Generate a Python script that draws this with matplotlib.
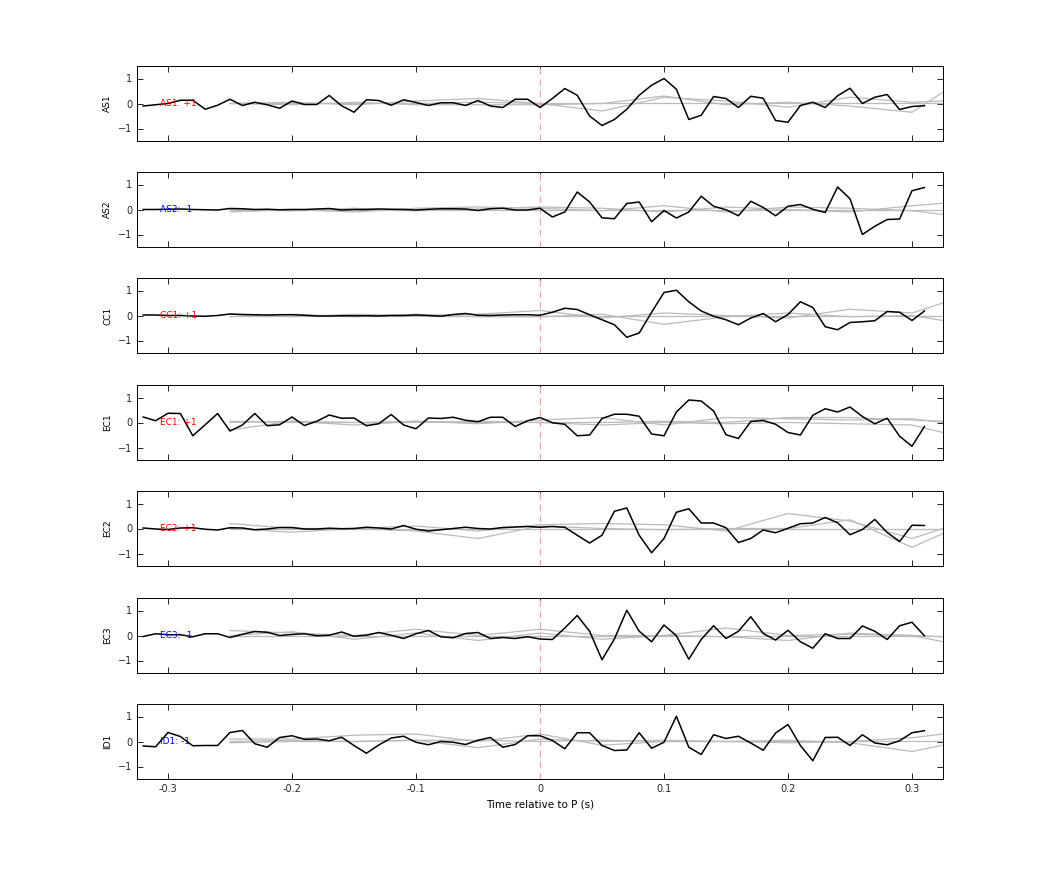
import numpy as np
import matplotlib.pyplot as plt

t = np.round(np.arange(-0.32, 0.315, 0.01), 2)
tg = [-0.25, -0.2, -0.15, -0.1, -0.05, 0.0, 0.05, 0.1, 0.15, 0.2, 0.25, 0.3, 0.325]

names = ['AS1', 'AS2', 'CC1', 'EC1', 'EC2', 'EC3', 'ID1']
labels = ['AS1: +1', 'AS2: -1', 'CC1: +1', 'EC1: +1', 'EC2: +1', 'EC3: -1', 'ID1: -1']
label_colors = ['red', 'blue', 'red', 'red', 'red', 'blue', 'blue']

as1 = [-0.1, -0.05, 0.0, 0.13, 0.13, -0.23, -0.07, 0.17, -0.08, 0.05, -0.05, -0.19, 0.1, -0.04,
       -0.04, 0.32, -0.09, -0.35, 0.15, 0.12, -0.07, 0.15, 0.04, -0.08, 0.03, 0.03, -0.08, 0.12,
       -0.1, -0.16, 0.17, 0.17, -0.16,
       0.2, 0.6, 0.33, -0.5, -0.88, -0.64, -0.23, 0.33, 0.73, 1.0, 0.57, -0.64, -0.47, 0.28, 0.2,
       -0.16, 0.29, 0.21, -0.68, -0.75, -0.08, 0.05, -0.16, 0.31, 0.61, 0.0, 0.25, 0.36, -0.24,
       -0.12, -0.09]
as2 = [0.0, 0.0, 0.01, 0.02, 0.0, -0.01, -0.02, 0.04, 0.03, 0.0, 0.01, -0.01, 0.0, 0.0,
       0.02, 0.04, -0.02, 0.0, 0.0, 0.02, 0.01, 0.0, -0.02, 0.01, 0.03, 0.03, 0.02, -0.04,
       0.03, 0.05, -0.02, -0.02, 0.05,
       -0.3, -0.1, 0.7, 0.3, -0.33, -0.37, 0.24, 0.3, -0.49, -0.04, -0.34, -0.1, 0.53, 0.13,
       -0.01, -0.25, 0.33, 0.08, -0.25, 0.13, 0.2, 0.01, -0.12, 0.9, 0.43, -1.0, -0.67, -0.4,
       -0.38, 0.75, 0.88]
cc1 = [0.02, 0.02, 0.0, 0.0, -0.02, -0.03, 0.0, 0.06, 0.04, 0.03, 0.02, 0.03, 0.03, 0.01,
       -0.02, -0.02, -0.01, -0.01, -0.01, -0.02, 0.0, 0.0, 0.02, 0.0, -0.03, 0.04, 0.08, 0.01,
       0.0, 0.02, 0.03, 0.03, 0.01,
       0.13, 0.29, 0.24, 0.03, -0.17, -0.37, -0.87, -0.7, 0.13, 0.92, 1.01, 0.55, 0.18, -0.03,
       -0.17, -0.37, -0.1, 0.08, -0.25, 0.04, 0.55, 0.32, -0.45, -0.57, -0.28, -0.25, -0.21,
       0.16, 0.13, -0.2, 0.18]
ec1 = [0.22, 0.07, 0.37, 0.36, -0.53, -0.09, 0.36, -0.34, -0.1, 0.36, -0.13, -0.09, 0.22,
       -0.12, 0.05, 0.3, 0.17, 0.18, -0.13, -0.05, 0.32, -0.1, -0.25, 0.18, 0.16, 0.21, 0.09,
       0.03, 0.21, 0.21, -0.16, 0.07, 0.2,
       -0.01, -0.07, -0.53, -0.5, 0.16, 0.33, 0.33, 0.25, -0.46, -0.53, 0.42, 0.9, 0.86, 0.46,
       -0.49, -0.64, 0.04, 0.08, -0.07, -0.4, -0.5, 0.29, 0.55, 0.42, 0.62, 0.24, -0.05, 0.17,
       -0.55, -0.95, -0.16]
ec2 = [0.02, -0.02, -0.04, 0.02, 0.03, -0.03, -0.06, 0.03, 0.02, -0.05, -0.02, 0.04, 0.04,
       -0.02, -0.02, 0.01, -0.01, 0.0, 0.05, 0.02, -0.02, 0.12, -0.03, -0.1, -0.05, 0.0, 0.05,
       0.0, -0.02, 0.04, 0.06, 0.08, 0.05,
       0.08, 0.05, -0.27, -0.58, -0.27, 0.69, 0.82, -0.27, -0.97, -0.4, 0.65, 0.79, 0.22, 0.22,
       0.03, -0.56, -0.4, -0.06, -0.17, 0.01, 0.19, 0.22, 0.44, 0.23, -0.25, -0.04, 0.36,
       -0.16, -0.52, 0.13, 0.12]
ec3 = [-0.04, 0.07, 0.03, 0.03, -0.05, 0.07, 0.07, -0.08, 0.05, 0.16, 0.13, 0.0, 0.04, 0.07,
       -0.01, 0.01, 0.14, -0.03, 0.01, 0.12, 0.01, -0.12, 0.07, 0.2, -0.05, -0.09, 0.08, 0.12,
       -0.12, -0.08, -0.12, -0.05, -0.14,
       -0.16, 0.3, 0.8, 0.17, -0.97, -0.14, 1.01, 0.17, -0.25, 0.42, -0.01, -0.95, -0.16, 0.39,
       -0.12, 0.17, 0.75, 0.08, -0.18, 0.21, -0.25, -0.51, 0.07, -0.12, -0.12, 0.38, 0.17,
       -0.16, 0.39, 0.53, -0.01]
id1 = [-0.18, -0.21, 0.36, 0.2, -0.17, -0.16, -0.16, 0.36, 0.44, -0.09, -0.23, 0.16, 0.23,
       0.09, 0.1, 0.03, 0.17, -0.16, -0.47, -0.14, 0.14, 0.21, -0.03, -0.13, 0.0, -0.03, -0.12,
       0.05, 0.16, -0.23, -0.12, 0.23, 0.23,
       0.04, -0.29, 0.35, 0.35, -0.16, -0.36, -0.34, 0.35, -0.27, -0.03, 1.01, -0.23, -0.52,
       0.27, 0.12, 0.21, -0.06, -0.35, 0.34, 0.68, -0.16, -0.77, 0.16, 0.17, -0.16, 0.27,
       -0.06, -0.13, 0.03, 0.35, 0.43]
black = [as1, as2, cc1, ec1, ec2, ec3, id1]

# grey comparison traces (coarse, one row per trace)
grey = [
    [[0.0, 0.0, 0.0, 0.0, 0.05, 0.0, 0.0, 0.0, 0.0, 0.0, 0.0, 0.0, 0.0],
     [0.0, 0.05, -0.05, 0.1, 0.2, 0.0, -0.3, 0.25, 0.1, -0.15, 0.25, 0.05, 0.1],
     [0.0, -0.05, 0.05, -0.05, -0.05, -0.05, 0.0, 0.3, -0.05, 0.05, -0.1, -0.35, 0.45]],
    [[0.0, -0.05, 0.05, -0.05, 0.02, 0.1, 0.05, -0.1, 0.1, 0.0, -0.1, 0.15, 0.25],
     [-0.1, 0.0, -0.1, 0.05, 0.1, 0.05, -0.05, 0.15, -0.1, 0.1, 0.05, -0.05, -0.2],
     [0.0, 0.0, 0.0, 0.0, 0.0, 0.0, 0.0, 0.0, 0.0, 0.0, 0.0, 0.0, 0.0]],
    [[0.0, 0.0, 0.0, 0.0, 0.0, 0.0, 0.0, 0.0, 0.0, 0.0, 0.0, 0.0, 0.0],
     [0.05, -0.05, 0.05, 0.0, 0.05, 0.2, -0.1, 0.1, 0.0, -0.1, 0.25, 0.1, 0.5],
     [-0.05, 0.05, -0.05, 0.05, -0.05, -0.05, 0.05, -0.35, -0.05, 0.1, -0.05, 0.0, -0.2]],
    [[-0.3, 0.05, -0.1, 0.05, -0.05, 0.1, 0.2, -0.1, 0.2, 0.15, 0.1, 0.15, 0.0],
     [0.0, 0.05, 0.0, 0.0, 0.05, 0.0, -0.1, 0.0, -0.05, 0.0, -0.05, -0.1, -0.4],
     [0.05, 0.0, 0.0, 0.05, 0.0, 0.0, 0.0, 0.05, 0.0, 0.2, 0.2, 0.1, 0.05]],
    [[0.2, 0.0, 0.0, 0.1, -0.1, 0.15, 0.2, 0.15, -0.1, 0.6, 0.3, -0.4, 0.0],
     [0.0, -0.15, 0.0, -0.1, -0.4, 0.1, 0.0, -0.05, 0.0, 0.0, 0.35, -0.75, -0.2],
     [0.0, 0.0, 0.0, 0.0, 0.0, 0.0, 0.0, 0.0, 0.0, 0.0, 0.0, 0.0, 0.0]],
    [[0.2, 0.1, 0.0, 0.25, 0.0, 0.25, 0.0, 0.0, 0.3, 0.0, 0.05, 0.0, -0.05],
     [0.0, 0.15, -0.15, 0.1, -0.2, 0.1, -0.15, 0.0, -0.05, -0.2, 0.1, 0.0, -0.25],
     [0.0, 0.0, 0.0, 0.0, 0.0, 0.0, 0.0, 0.0, 0.0, 0.0, 0.0, 0.0, 0.0]],
    [[0.1, 0.1, 0.25, 0.3, 0.0, 0.3, -0.15, 0.0, 0.0, 0.0, 0.0, 0.0, 0.0],
     [-0.05, 0.0, 0.0, 0.05, -0.25, 0.1, 0.0, 0.05, 0.0, 0.05, -0.05, -0.4, -0.15],
     [0.0, 0.05, 0.0, 0.05, 0.05, 0.0, 0.05, 0.0, 0.0, -0.05, 0.0, 0.15, 0.3]],
]

fig = plt.figure(figsize=(10.42, 8.75), dpi=100)
H = 875.0
tops = [66, 172, 278, 385, 491, 598, 704]
for i in range(7):
    ax = fig.add_axes([137 / 1042, 1 - (tops[i] + 75) / H, 806 / 1042, 75 / H])
    for g in grey[i]:
        ax.plot(tg, g, color='#bbbbbb', lw=0.9)
    ax.axvline(0, color='#f0a0a0', lw=0.8, dashes=(6, 4))
    ax.plot(t, black[i], color='black', lw=1.1)
    ax.text(-0.3065, 0, labels[i], color=label_colors[i], fontsize=6.5, va='center')
    ax.set_xlim(-0.325, 0.325)
    ax.set_ylim(-1.5, 1.5)
    ax.set_yticks([-1, 0, 1])
    ax.set_xticks([-0.3, -0.2, -0.1, 0, 0.1, 0.2, 0.3])
    ax.tick_params(direction='in', top=True, right=True, labelsize=7, length=4, width=0.6,
                   labelcolor='#262626')
    ax.set_ylabel(names[i], fontsize=6.5)
    for s in ax.spines.values():
        s.set_linewidth(0.7)
    if i < 6:
        ax.set_xticklabels([])
    else:
        ax.set_xticklabels(['-0.3', '-0.2', '-0.1', '0', '0.1', '0.2', '0.3'])
        ax.set_xlabel('Time relative to P (s)', fontsize=7.5)

fig.savefig('out.png', dpi=100)
